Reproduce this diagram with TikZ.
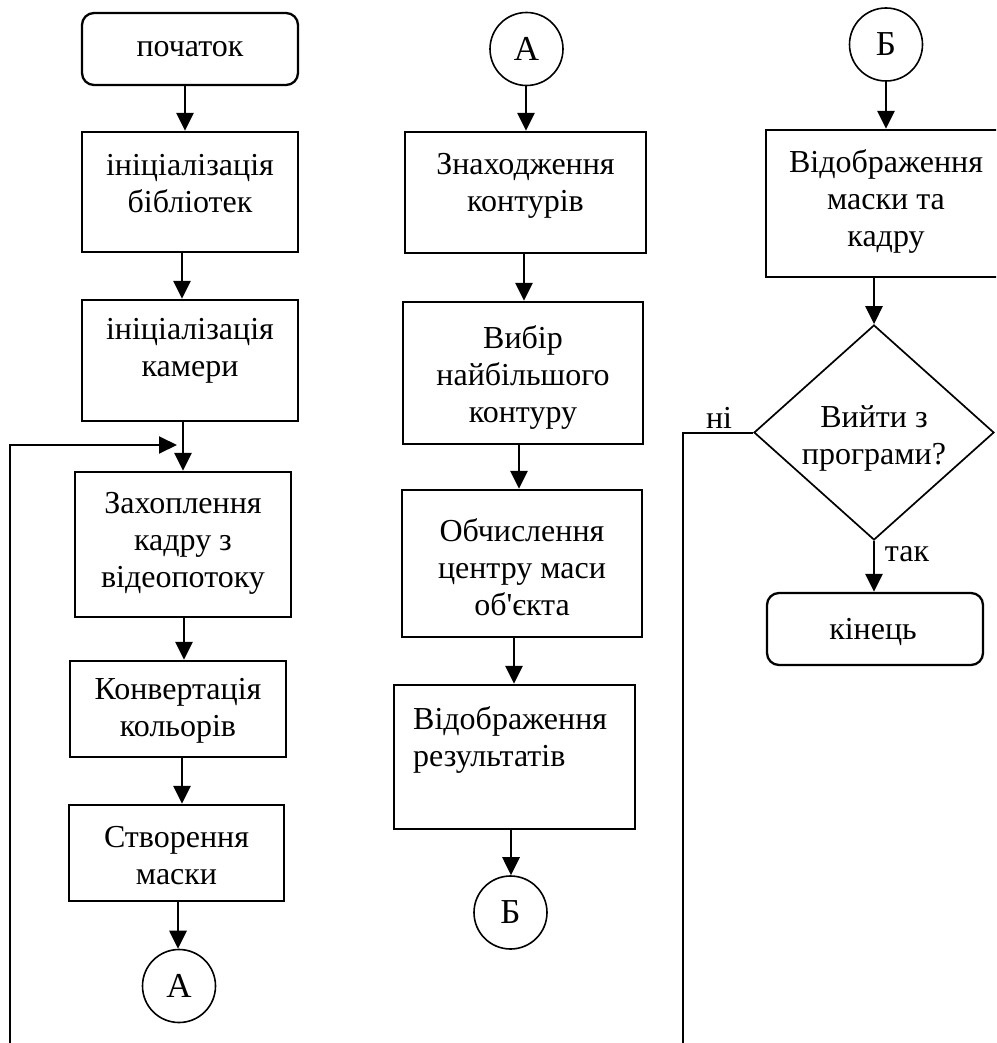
\documentclass[tikz,border=0pt]{standalone}
\usepackage{fontspec}
\setmainfont{Liberation Serif}
\usetikzlibrary{shapes.geometric,arrows.meta}
\tikzset{
  box/.style={draw, line width=2.3pt, inner sep=0pt, rectangle},
  rbox/.style={box, rounded corners=12pt},
  conn/.style={draw, circle, line width=1.6pt, minimum size=73pt, inner sep=0pt, font=\fontsize{35}{40}\selectfont},
  decbox/.style={draw, diamond, line width=1.7pt, inner sep=0pt},
  txt/.style={font=\fontsize{32}{37}\selectfont, align=center, inner sep=0pt},
  tip/.tip={Triangle[length=18pt,width=17pt]},
  arr/.style={line width=2.8pt, -tip},
  loopline/.style={line width=2pt},
}
\begin{document}
\begin{tikzpicture}[x=1pt,y=-1pt]
\useasboundingbox (0,0) rectangle (996,1043);
\clip (0,0) rectangle (996,1043);
% ---------- column 1
\node[rbox, minimum width=216pt, minimum height=72pt] (start) at (190,49) {};
\node[txt] (tstart) at (190,49) {початок};
\node[box, minimum width=216pt, minimum height=120pt] (b1) at (190,192) {};
\node[txt] (t1) at (190,184) {ініціалізація\\бібліотек};
\node[box, minimum width=216pt, minimum height=121pt] (b2) at (190,360.5) {};
\node[txt] (t2) at (190,351) {ініціалізація\\камери};
\node[box, minimum width=216pt, minimum height=145pt] (b3) at (183,544.5) {};
\node[txt] (t3) at (183,543) {Захоплення\\кадру з\\відеопотоку};
\node[box, minimum width=216pt, minimum height=96pt] (b4) at (178,709) {};
\node[txt] (t4) at (178,711) {Конвертація\\кольорів};
\node[box, minimum width=215pt, minimum height=96pt] (b5) at (176.5,853) {};
\node[txt] (t5) at (176.5,856) {Створення\\маски};
\node[conn] (a1) at (179,986) {А};

\draw[arr] (start.south -| 185,0) -- (b1.north -| 185,0);
\draw[arr] (b1.south -| 182,0) -- (b2.north -| 182,0);
\draw[arr] (b2.south -| 183,0) -- (b3.north -| 183,0);
\draw[arr] (b3.south -| 184,0) -- (b4.north -| 184,0);
\draw[arr] (b4.south -| 182,0) -- (b5.north -| 182,0);
\draw[arr] (b5.south -| 178,0) -- (a1.north -| 178,0);

\coordinate (loopin) at (177,445);
\coordinate (loopbot) at (10,1050);
\draw[loopline, -tip] (loopbot) |- (loopin);

% ---------- column 2
\node[conn] (a2) at (526.5,49) {А};
\node[box, minimum width=241pt, minimum height=121pt] (c1) at (525.5,192.5) {};
\node[txt] (s1) at (525.5,186) {Знаходження\\контурів};
\node[box, minimum width=240pt, minimum height=142pt] (c2) at (523,373) {};
\node[txt] (s2) at (523,377) {Вибір\\найбільшого\\контуру};
\node[box, minimum width=240pt, minimum height=147pt] (c3) at (522,563.5) {};
\node[txt] (s3) at (522,567) {Обчислення\\центру маси\\об\textquotesingle єкта};
\node[box, minimum width=241pt, minimum height=144pt] (c4) at (514.5,757) {};
\node[txt, align=left, anchor=west] (s4) at (413,740) {Відображення\\результатів};
\node[conn] (b1c) at (510.5,912.5) {Б};

\draw[arr] (a2.south -| 526,0) -- (c1.north -| 526,0);
\draw[arr] (c1.south -| 524,0) -- (c2.north -| 524,0);
\draw[arr] (c2.south -| 519,0) -- (c3.north -| 519,0);
\draw[arr] (c3.south -| 514,0) -- (c4.north -| 514,0);
\draw[arr] (c4.south -| 511,0) -- (b1c.north -| 511,0);

% ---------- column 3
\node[conn] (b2c) at (886,44.5) {Б};
\node[box, minimum width=241pt, minimum height=147pt] (d1) at (886.5,203.5) {};
\node[txt] (u1) at (886,201) {Відображення\\маски та\\кадру};
\node[decbox, minimum width=240pt, minimum height=215pt] (dec) at (874,432.5) {};
\node[txt] (u2) at (874,438) {Вийти з\\програми?};
\node[txt] (ni) at (719,418) {ні};
\node[txt] (tak) at (907,554) {так};
\node[rbox, minimum width=216pt, minimum height=72pt] (stop) at (875,629) {};
\node[txt] (u3) at (873,632) {кінець};

\draw[arr] (b2c.south -| 886,0) -- (d1.north -| 886,0);
\draw[arr] (d1.south -| 874,0) -- (dec.north);
\draw[arr] (dec.south) -- (stop.north -| dec.south);

\coordinate (nibot) at (683,1050);
\draw[loopline] (dec.west) -| (nibot);
\end{tikzpicture}
\end{document}
